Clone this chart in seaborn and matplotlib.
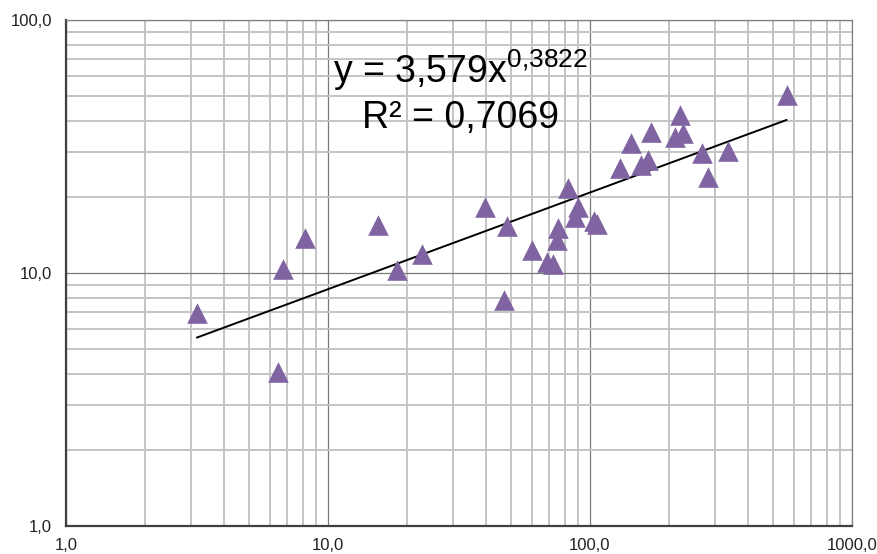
import numpy as np
import pandas as pd
import matplotlib
matplotlib.use("Agg")
import matplotlib.pyplot as plt
import seaborn as sns
from matplotlib.ticker import FixedLocator, FuncFormatter, LogLocator, NullFormatter

x_vals = [3.16, 6.45, 6.73, 8.17, 15.5, 18.3, 22.8, 39.7, 47.0, 48.2,
          59.9, 68.4, 72.4, 74.6, 75.7, 82.7, 87.6, 90.3, 104, 106,
          130, 143, 157, 166, 171, 211, 221, 227, 267, 281, 336, 563]
y_vals = [6.95, 4.06, 10.4, 13.7, 15.5, 10.3, 11.9, 18.2, 7.82, 15.3,
          12.3, 11.1, 10.9, 13.5, 15.0, 21.6, 16.7, 18.3, 16.0, 15.6,
          25.9, 32.6, 26.7, 28.0, 36.0, 34.6, 42.2, 35.6, 29.7, 24.0, 30.4, 50.5]
fit_a = 3.579
fit_b = 0.3822
r2_text = "0,7069"
x_ticks = [1, 10, 100, 1000]
y_ticks = [1, 10, 100]

df = pd.DataFrame({"x": x_vals, "y": y_vals})
xs = np.geomspace(min(x_vals), max(x_vals), 200)
fit_df = pd.DataFrame({"x": xs, "y": fit_a * xs ** fit_b})

sns.set_style("white")
plt.rcParams["font.family"] = ["Liberation Sans", "DejaVu Sans"]
plt.rcParams["mathtext.default"] = "regular"

fig = plt.figure(figsize=(8.78, 5.54), dpi=100)
ax = fig.add_axes([66/878, 28/554, 786/878, 506/554])
ax.set_xscale("log")
ax.set_yscale("log")
ax.set_xlim(1, 1000)
ax.set_ylim(1, 100)

ax.xaxis.set_minor_locator(LogLocator(base=10, subs=np.arange(2, 10)))
ax.yaxis.set_minor_locator(LogLocator(base=10, subs=np.arange(2, 10)))
ax.xaxis.set_minor_formatter(NullFormatter())
ax.yaxis.set_minor_formatter(NullFormatter())
ax.grid(True, which="minor", color="#c4c4c4", linewidth=1.4, zorder=0)
ax.grid(True, which="major", color="#7a7a7a", linewidth=0.9, zorder=0)
ax.set_axisbelow(True)

sns.lineplot(data=fit_df, x="x", y="y", ax=ax, color="black", linewidth=1.4, zorder=2)
sns.scatterplot(data=df, x="x", y="y", ax=ax, marker="^", s=220, color="#8064A2",
                linewidth=0, zorder=3)

fmt = FuncFormatter(lambda v, p: f"{v:.1f}".replace(".", ","))
ax.xaxis.set_major_locator(FixedLocator(x_ticks))
ax.yaxis.set_major_locator(FixedLocator(y_ticks))
ax.xaxis.set_major_formatter(fmt)
ax.yaxis.set_major_formatter(fmt)
ax.tick_params(axis="both", which="major", length=4, width=1, color="#404040",
               labelsize=12, labelcolor="#222222", direction="out")
ax.tick_params(axis="x", pad=5)
ax.tick_params(axis="y", pad=6)
ax.tick_params(axis="both", which="minor", length=0)
ax.set_xlabel("")
ax.set_ylabel("")

for s in ["left", "bottom"]:
    ax.spines[s].set_color("#404040")
    ax.spines[s].set_linewidth(1.6)
for s in ["top", "right"]:
    ax.spines[s].set_color("#808080")
    ax.spines[s].set_linewidth(0.9)

a_txt = str(fit_a).replace(".", ",")
b_txt = str(fit_b).replace(".", "{,}")
ax.text(0.3395, 0.8755, f"y = {a_txt}x$^{{{b_txt}}}$",
        transform=ax.transAxes, fontsize=27, ha="left", va="baseline", color="black")
ax.text(0.3766, 0.786, f"R² = {r2_text}", transform=ax.transAxes, fontsize=27,
        ha="left", va="baseline", color="black")

fig.savefig("out.png", dpi=100)
